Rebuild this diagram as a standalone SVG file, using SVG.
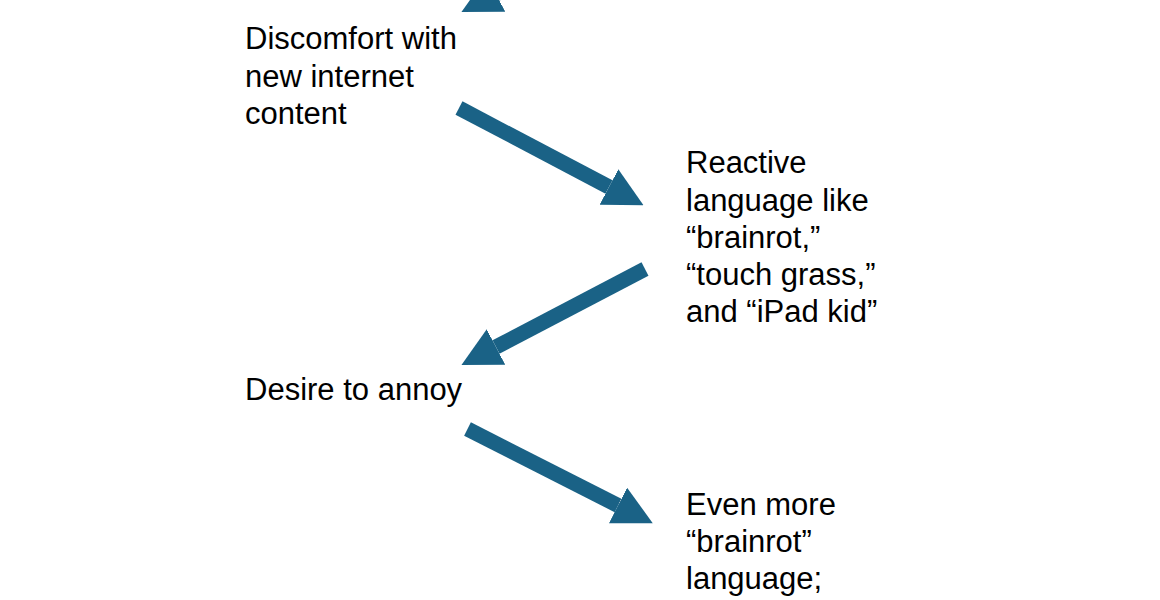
<svg xmlns="http://www.w3.org/2000/svg" width="1160" height="600" viewBox="0 0 1160 600">
  <style>
    .lbl { font-family: "Liberation Sans", Arial, Helvetica, sans-serif; font-size: 31px; fill: #000; }
    .conn { stroke: #1a6286; stroke-width: 15; stroke-linecap: butt; fill: none; marker-end: url(#head); }
  </style>
  <defs>
    <marker id="head" markerUnits="userSpaceOnUse" markerWidth="39" markerHeight="40" viewBox="0 0 39 40" refX="0" refY="20" orient="auto">
      <path d="M0,0 L39,20 L0,40 Z" fill="#1a6286"/>
    </marker>
  </defs>
  <rect x="0" y="0" width="1160" height="600" fill="#ffffff"/>

  <g id="connectors">
    <line class="conn" x1="645" y1="-84" x2="496" y2="-6"/>
    <line class="conn" x1="459" y1="108" x2="609" y2="187"/>
    <line class="conn" x1="645" y1="269" x2="496" y2="347"/>
    <line class="conn" x1="467.5" y1="429" x2="618" y2="505.5"/>
  </g>

  <g id="node-discomfort">
    <text class="lbl" x="245" y="49">Discomfort with</text>
    <text class="lbl" x="245" y="86.5">new internet</text>
    <text class="lbl" x="245" y="124">content</text>
  </g>

  <g id="node-reactive">
    <text class="lbl" x="686" y="173">Reactive</text>
    <text class="lbl" x="686" y="210.5">language like</text>
    <text class="lbl" x="686" y="248">“brainrot,”</text>
    <text class="lbl" x="686" y="285">“touch grass,”</text>
    <text class="lbl" x="686" y="322">and “iPad kid”</text>
  </g>

  <g id="node-desire">
    <text class="lbl" x="245" y="400">Desire to annoy</text>
  </g>

  <g id="node-more">
    <text class="lbl" x="686" y="515">Even more</text>
    <text class="lbl" x="686" y="552">“brainrot”</text>
    <text class="lbl" x="686" y="589">language;</text>
  </g>
</svg>
